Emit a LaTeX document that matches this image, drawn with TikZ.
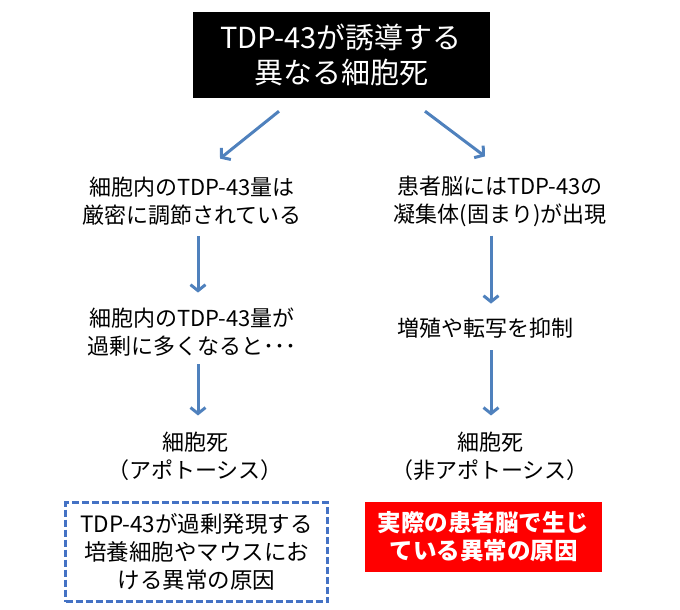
\documentclass[tikz,border=0pt]{standalone}
\usepackage{fontspec}
\setmainfont{Noto Sans CJK JP}
\usetikzlibrary{arrows.meta}
\definecolor{arrowblue}{RGB}{79,129,189}
\definecolor{dashblue}{RGB}{68,114,196}
\begin{document}
\begin{tikzpicture}
[x=1pt,y=-1pt,
  textdecorate/.style={align=center,inner sep=0pt,font=\fontsize{22}{28}\selectfont},%
  titledecorate/.style={fill=black,text=white,align=center,inner sep=0pt,
    minimum width=297pt,minimum height=86pt,font=\fontsize{29}{35}\selectfont},%
  dashdecorate/.style={draw=dashblue,line width=2.2pt,dash pattern=on 7pt off 3pt,
    align=center,inner sep=0pt,minimum width=262pt,minimum height=99pt,
    font=\fontsize{22.5}{28}\selectfont},%
  reddecorate/.style={fill=red,text=white,align=center,inner sep=0pt,
    minimum width=237pt,minimum height=70pt,font=\fontsize{23.5}{28}\selectfont\bfseries},%
  arrowdecorate/.style={-{Straight Barb[length=6pt,width=15pt]},line width=3pt,draw=arrowblue}]
\useasboundingbox (0,0) rectangle (680,610);
%% title
\node (top) at (341,55) [titledecorate] {TDP-43が誘導する\\異なる細胞死};
%% text of both columns
\foreach \nodename/\x/\y/\words in {
  l1/192/201/{細胞内のTDP-43量は\\厳密に調節されている},
  l2/192/332/{細胞内のTDP-43量が\\過剰に多くなると･･･},
  l3/195/456/{細胞死\\（アポトーシス）},
  r1/500/201/{患者脳にはTDP-43の\\凝集体(固まり)が出現},
  r2/485/328/{増殖や転写を抑制},
  r3/490/456/{細胞死\\（非アポトーシス）}} {
  \node (\nodename) at (\x,\y) [textdecorate] {\words};
}
%% boxes at the bottom
\node (ldash) at (196.5,552) [dashdecorate] {TDP-43が過剰発現する\\培養細胞やマウスにお\\ける異常の原因};
\node (rred) at (483.5,537) [reddecorate] {実際の患者脳で生じ\\ている異常の原因};
%% arrows
\coordinate (lcol) at (198,0);
\coordinate (rcol) at (491,0);
\path ([shift={(-62,13)}]top.south) edge[arrowdecorate] ([shift={(28,-18)}]l1.north)
  ([shift={(84,13)}]top.south) edge[arrowdecorate] ([shift={(-15,-19)}]r1.north);
\path
\foreach \startnode/\endnode/\column/\gapstart/\gapend in {l1/l2/lcol/11/15,
  l2/l3/lcol/8/16, r1/r2/rcol/9/14, r2/r3/rcol/12/16} {
  (\startnode.south -| \column) edge[arrowdecorate,shorten <=\gapstart pt,
    shorten >=\gapend pt] (\endnode.north -| \column)
};
\end{tikzpicture}
\end{document}
